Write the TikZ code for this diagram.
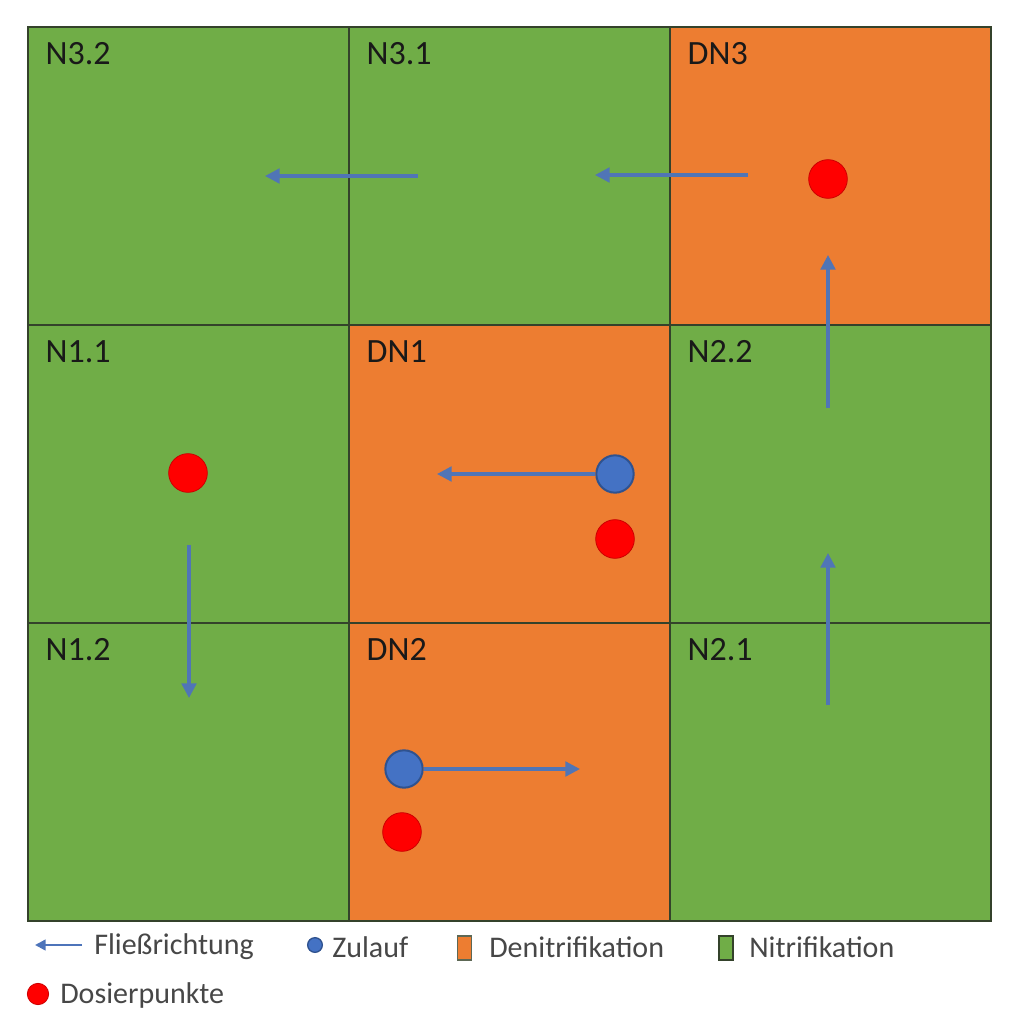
\documentclass[tikz,border=0pt]{standalone}
\usepackage{fontspec}
\setmainfont{Carlito}
\usetikzlibrary{arrows.meta,positioning}
\definecolor{nitri}{HTML}{70AD47}
\definecolor{denitri}{HTML}{ED7D31}
\definecolor{flow}{HTML}{4472C4}
\definecolor{flowdark}{HTML}{2F528F}
\definecolor{dosier}{HTML}{FF0000}
\definecolor{gridline}{HTML}{34422B}

\begin{document}
\begin{tikzpicture}[x=0.75pt, y=-0.75pt,
    cell/.style={draw=gridline, line width=1.9pt, minimum width=240.75pt, minimum height=223.5pt, inner sep=0pt},
    celllbl/.style={inner sep=0pt, text=black!90, font=\fontsize{25.5}{30}\selectfont},
    legtext/.style={anchor=west, inner sep=0pt, text=black!72, font=\fontsize{22.5}{27}\selectfont},
    dosierpkt/.style={circle, fill=dosier, draw=red!80!black, line width=0.6pt, minimum size=29pt, inner sep=0pt},
    zulauf/.style={circle, fill=flow, draw=flowdark, line width=1.5pt, minimum size=28pt, inner sep=0pt},
    flowarrow/.style={draw=flow!80!gray, line width=2.4pt, -{Triangle[length=11pt,width=11pt]}}]
    \useasboundingbox (0,0) rectangle (1012,1020);

    % Becken
    \node[cell, fill=nitri] (n32) at (188.5,176) {};
    \node[cell, fill=nitri] (n31) at (509.5,176) {};
    \node[cell, fill=denitri] (dn3) at (830.5,176) {};
    \node[cell, fill=nitri] (n11) at (188.5,474) {};
    \node[cell, fill=denitri] (dn1) at (509.5,474) {};
    \node[cell, fill=nitri] (n22) at (830.5,474) {};
    \node[cell, fill=nitri] (n12) at (188.5,772) {};
    \node[cell, fill=denitri] (dn2) at (509.5,772) {};
    \node[cell, fill=nitri] (n21) at (830.5,772) {};

    \node[celllbl, below right=12.5pt and 14pt of n32.north west] (l32) {N3.2};
    \node[celllbl, below right=12.5pt and 14pt of n31.north west] (l31) {N3.1};
    \node[celllbl, below right=12.5pt and 14pt of dn3.north west] (ld3) {DN3};
    \node[celllbl, below right=12.5pt and 14pt of n11.north west] (l11) {N1.1};
    \node[celllbl, below right=12.5pt and 14pt of dn1.north west] (ld1) {DN1};
    \node[celllbl, below right=12.5pt and 14pt of n22.north west] (l22) {N2.2};
    \node[celllbl, below right=12.5pt and 14pt of n12.north west] (l12) {N1.2};
    \node[celllbl, below right=12.5pt and 14pt of dn2.north west] (ld2) {DN2};
    \node[celllbl, below right=12.5pt and 14pt of n21.north west] (l21) {N2.1};

    % Zulauf und Dosierpunkte
    \node[zulauf] (zu1) at (615,474) {};
    \node[zulauf] (zu2) at (404,769) {};
    \node[dosierpkt] (dp3) at (828,179) {};
    \node[dosierpkt] (dp11) at (188,473) {};
    \node[dosierpkt] (dp1) at (615,539) {};
    \node[dosierpkt] (dp2) at (402,832) {};

    % Fliessrichtung
    \coordinate (f1a) at (748,175);
    \coordinate (f1b) at (595,175);
    \coordinate (f2a) at (418,176);
    \coordinate (f2b) at (265,176);
    \coordinate (f3a) at (189,545);
    \coordinate (f3b) at (189,698);
    \coordinate (f4b) at (437,474);
    \coordinate (f5b) at (580,769);
    \coordinate (f6a) at (828,705);
    \coordinate (f6b) at (828,553);
    \coordinate (f7a) at (828,408);
    \coordinate (f7b) at (828,255);
    \draw[flowarrow] (f1a) -- (f1b);
    \draw[flowarrow] (f2a) -- (f2b);
    \draw[flowarrow] (f3a) -- (f3b);
    \draw[flowarrow] (zu1) -- (f4b);
    \draw[flowarrow] (zu2) -- (f5b);
    \draw[flowarrow] (f6a) -- (f6b);
    \draw[flowarrow] (f7a) -- (f7b);

    % Legende
    \coordinate (lga) at (82,945);
    \coordinate (lgb) at (35,945);
    \draw[draw=flow!85!gray, line width=1.8pt, -{Triangle[length=8pt,width=8pt]}] (lga) -- (lgb);
    \node[legtext] (t1) at (94,947) {Fließrichtung};
    \node[zulauf, minimum size=11pt, line width=1pt] (lz) at (315,945) {};
    \node[legtext] (t2) at (332,947) {Zulauf};
    \node[draw=gridline!80, line width=1pt, fill=denitri, minimum width=10.5pt, minimum height=18pt, inner sep=0pt] (ld) at (464.5,948) {};
    \node[legtext] (t3) at (489,947) {Denitrifikation};
    \node[draw=gridline, line width=1pt, fill=nitri, minimum width=10.5pt, minimum height=18pt, inner sep=0pt] (ln) at (726,948) {};
    \node[legtext] (t4) at (749,947) {Nitrifikation};
    \node[dosierpkt, minimum size=16pt] (ldp) at (38,994) {};
    \node[legtext] (t5) at (60,995) {Dosierpunkte};
\end{tikzpicture}
\end{document}
